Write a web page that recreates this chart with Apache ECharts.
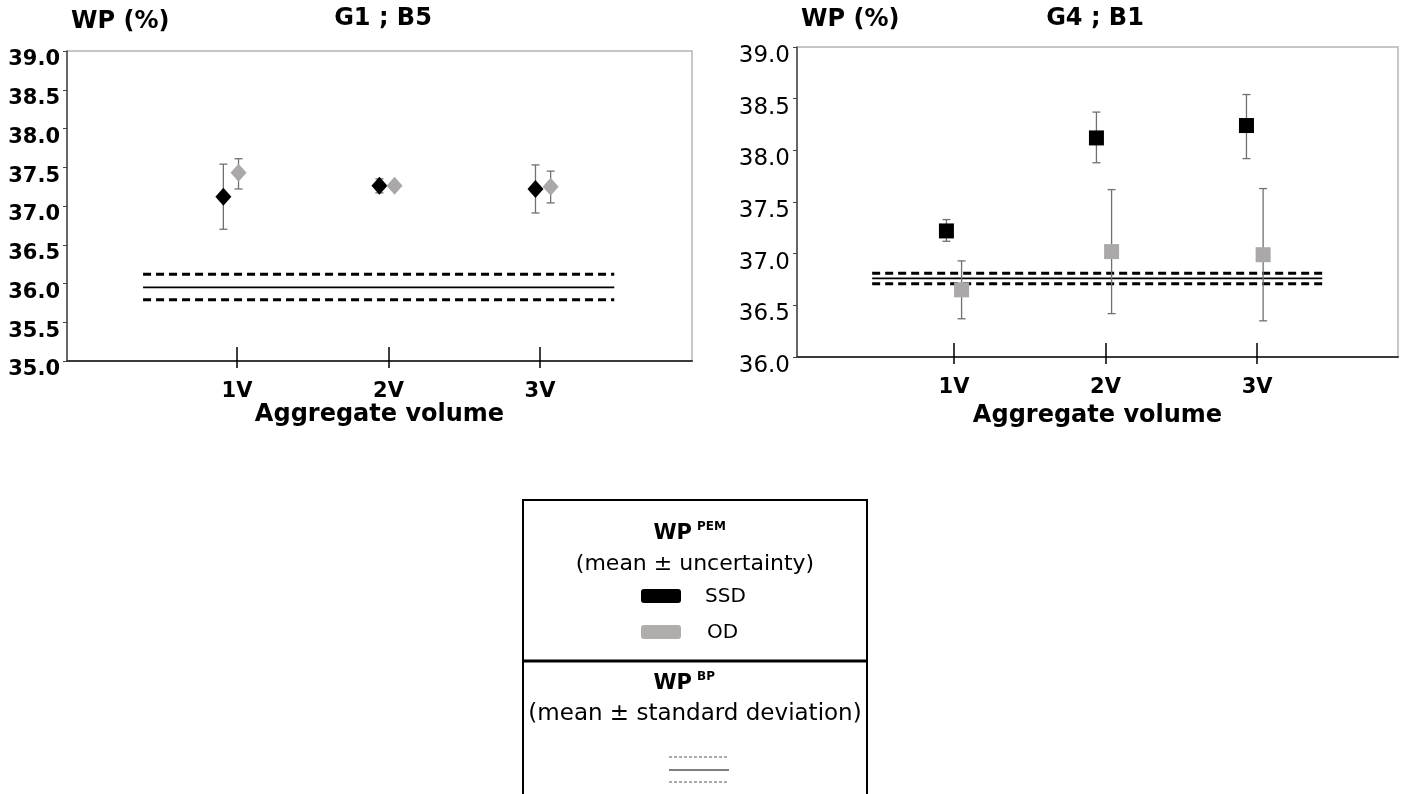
<!DOCTYPE html>
<html>
<head>
<meta charset="utf-8">
<script src="https://cdn.jsdelivr.net/npm/echarts@6/dist/echarts.min.js"></script>
<style>
  html, body { margin: 0; padding: 0; background: #fff; }
  #chart-container { width: 1404px; height: 794px; }
</style>
</head>
<body>
<div id="chart-container"></div>
<script>
// categories on the x axis
var categories = ['1V', '2V', '3V'];

// G1 ; B5  (left panel) - WP PEM, mean and error bar ends
var g1SsdX = [0.91, 1.94, 2.97];
var g1SsdMean = [37.12, 37.26, 37.22];
var g1SsdLow = [36.70, 37.17, 36.91];
var g1SsdHigh = [37.54, 37.35, 37.53];
var g1OdX = [1.01, 2.04, 3.07];
var g1OdMean = [37.43, 37.26, 37.25];
var g1OdLow = [37.22, 37.24, 37.04];
var g1OdHigh = [37.61, 37.28, 37.45];
// WP BP: mean - sd, mean, mean + sd
var g1Bp = [35.79, 35.95, 36.12];
var g1BpSpan = [0.38, 3.49];

// G4 ; B1  (right panel)
var g4SsdX = [0.95, 1.94, 2.93];
var g4SsdMean = [37.22, 38.12, 38.24];
var g4SsdLow = [37.12, 37.88, 37.92];
var g4SsdHigh = [37.33, 38.37, 38.54];
var g4OdX = [1.05, 2.04, 3.04];
var g4OdMean = [36.65, 37.02, 36.99];
var g4OdLow = [36.37, 36.42, 36.35];
var g4OdHigh = [36.93, 37.62, 37.63];
var g4Bp = [36.71, 36.76, 36.81];
var g4BpSpan = [0.46, 3.43];

var dom = document.getElementById('chart-container');
var myChart = echarts.init(dom, null, { renderer: 'canvas' });

var FONT = '"DejaVu Sans", sans-serif';
var SSD_COLOR = '#000000';
var OD_COLOR = '#aaa8a8';
var BAR_COLOR = '#707070';

function zip(a, b) {
  return a.map(function (v, i) { return [v, b[i]]; });
}
function bars(x, lo, hi) {
  return x.map(function (v, i) { return [v, lo[i], hi[i]]; });
}

// error bar: vertical line with caps
function renderBar(params, api) {
  var top = api.coord([api.value(0), api.value(2)]);
  var bot = api.coord([api.value(0), api.value(1)]);
  var w = 4;
  var st = { stroke: BAR_COLOR, lineWidth: 1.3 };
  return {
    type: 'group',
    children: [
      { type: 'line', shape: { x1: top[0], y1: top[1], x2: bot[0], y2: bot[1] }, style: st },
      { type: 'line', shape: { x1: top[0] - w, y1: top[1], x2: top[0] + w, y2: top[1] }, style: st },
      { type: 'line', shape: { x1: bot[0] - w, y1: bot[1], x2: bot[0] + w, y2: bot[1] }, style: st }
    ]
  };
}

function bpLines(idx, bp, span) {
  return bp.map(function (v, i) {
    return {
      type: 'line',
      xAxisIndex: idx * 2,
      yAxisIndex: idx,
      data: [[span[0], v], [span[1], v]],
      symbol: 'none',
      silent: true,
      z: 1,
      lineStyle: i === 1
        ? { color: '#000', width: 1.8, type: 'solid' }
        : { color: '#000', width: 3, type: [8, 5] }
    };
  });
}

function panelSeries(idx, symbol, size, ssdX, ssdM, ssdL, ssdH, odX, odM, odL, odH, bp, span) {
  var s = bpLines(idx, bp, span);
  s.push({
    type: 'custom', xAxisIndex: idx * 2, yAxisIndex: idx, z: 2, silent: true,
    renderItem: renderBar, data: bars(ssdX, ssdL, ssdH)
  });
  s.push({
    type: 'custom', xAxisIndex: idx * 2, yAxisIndex: idx, z: 2, silent: true,
    renderItem: renderBar, data: bars(odX, odL, odH)
  });
  s.push({
    type: 'scatter', name: 'SSD', xAxisIndex: idx * 2, yAxisIndex: idx, z: 3,
    symbol: symbol, symbolSize: size, itemStyle: { color: SSD_COLOR, opacity: 1 },
    data: zip(ssdX, ssdM)
  });
  s.push({
    type: 'scatter', name: 'OD', xAxisIndex: idx * 2, yAxisIndex: idx, z: 3,
    symbol: symbol, symbolSize: size, itemStyle: { color: OD_COLOR, opacity: 1 },
    data: zip(odX, odM)
  });
  return s;
}

function xAxes(grid, min, max, nameGap) {
  return [
    {
      gridIndex: grid, type: 'value', position: 'bottom', min: min, max: max,
      axisLine: { onZero: false, lineStyle: { color: '#3a3a3a', width: 2 } },
      axisTick: { customValues: [1, 2, 3], inside: true, length: 14, lineStyle: { color: '#000', width: 1.5 } },
      axisLabel: {
        customValues: [1, 2, 3], margin: 20, color: '#000', fontFamily: FONT,
        fontWeight: 'bold', fontSize: 21,
        formatter: function (v) { return categories[Math.round(v) - 1]; }
      },
      splitLine: { show: false },
      name: 'Aggregate volume', nameLocation: 'middle', nameGap: nameGap,
      nameTextStyle: { fontFamily: FONT, fontWeight: 'bold', fontSize: 24, color: '#000' }
    },
    {
      gridIndex: grid, type: 'value', position: 'bottom', min: min, max: max,
      axisLine: { show: false, onZero: false },
      axisTick: { customValues: [1, 2, 3], inside: false, length: 7, lineStyle: { color: '#000', width: 1.5 } },
      axisLabel: { show: false },
      splitLine: { show: false }
    }
  ];
}

function yAxis(grid, min, max, bold, size) {
  return {
    gridIndex: grid, type: 'value', min: min, max: max, interval: 0.5,
    axisLine: { show: true, onZero: false, lineStyle: { color: '#444', width: 1.5 } },
    axisTick: { show: true, length: 4, lineStyle: { color: '#444' } },
    axisLabel: {
      margin: 7, color: '#000', fontFamily: FONT, fontSize: size,
      fontWeight: bold ? 'bold' : 'normal', verticalAlign: 'top', lineHeight: 18,
      formatter: function (v) { return v.toFixed(1); }
    },
    splitLine: { show: false }
  };
}

function txt(x, y, text, size, weight, align) {
  return {
    type: 'text', x: x, y: y,
    style: {
      text: text, fontFamily: FONT, fontSize: size, fontWeight: weight || 'normal',
      fill: '#000', textAlign: align || 'center', textVerticalAlign: 'middle'
    }
  };
}

var option = {
  backgroundColor: '#fff',
  animation: false,
  grid: [
    { left: 67, top: 51, width: 625, height: 310, show: true, borderColor: '#b5b5b5', borderWidth: 1.5 },
    { left: 797, top: 47, width: 601, height: 310, show: true, borderColor: '#b5b5b5', borderWidth: 1.5 }
  ],
  xAxis: xAxes(0, -0.122, 4.003, 26).concat(xAxes(1, -0.036, 3.93, 47)),
  yAxis: [yAxis(0, 35, 39, true, 21), yAxis(1, 36, 39, false, 23)],
  series: panelSeries(0, 'diamond', [16, 18], g1SsdX, g1SsdMean, g1SsdLow, g1SsdHigh,
      g1OdX, g1OdMean, g1OdLow, g1OdHigh, g1Bp, g1BpSpan)
    .concat(panelSeries(1, 'rect', 15, g4SsdX, g4SsdMean, g4SsdLow, g4SsdHigh,
      g4OdX, g4OdMean, g4OdLow, g4OdHigh, g4Bp, g4BpSpan)),
  graphic: [
    // panel headings
    txt(71, 22, 'WP (%)', 24, 'bold', 'left'),
    txt(383, 19, 'G1 ; B5', 24, 'bold'),
    txt(801, 20, 'WP (%)', 24, 'bold', 'left'),
    txt(1095, 19, 'G4 ; B1', 24, 'bold'),
    // legend box
    { type: 'rect', shape: { x: 523, y: 500, width: 344, height: 320 }, style: { fill: 'none', stroke: '#000', lineWidth: 2 } },
    { type: 'line', shape: { x1: 523, y1: 661, x2: 867, y2: 661 }, style: { stroke: '#000', lineWidth: 3 } },
    txt(692, 534, 'WP', 21, 'bold', 'right'),
    txt(697, 527, 'PEM', 12, 'bold', 'left'),
    txt(695, 564, '(mean \u00b1 uncertainty)', 22),
    { type: 'rect', shape: { x: 641, y: 589, width: 40, height: 14, r: 3 }, style: { fill: SSD_COLOR } },
    txt(705, 597, 'SSD', 20, 'normal', 'left'),
    { type: 'rect', shape: { x: 641, y: 625, width: 40, height: 14, r: 3 }, style: { fill: '#b0adad' } },
    txt(707, 633, 'OD', 20, 'normal', 'left'),
    txt(692, 684, 'WP', 21, 'bold', 'right'),
    txt(697, 677, 'BP', 12, 'bold', 'left'),
    txt(695, 714, '(mean \u00b1 standard deviation)', 23),
    { type: 'line', shape: { x1: 669, y1: 757, x2: 729, y2: 757 }, style: { stroke: '#555', lineWidth: 1, lineDash: [3, 2] } },
    { type: 'line', shape: { x1: 669, y1: 770, x2: 729, y2: 770 }, style: { stroke: '#555', lineWidth: 1.5 } },
    { type: 'line', shape: { x1: 669, y1: 782, x2: 729, y2: 782 }, style: { stroke: '#555', lineWidth: 1, lineDash: [3, 2] } }
  ]
};

myChart.setOption(option);
window.addEventListener('resize', myChart.resize);
</script>
</body>
</html>
